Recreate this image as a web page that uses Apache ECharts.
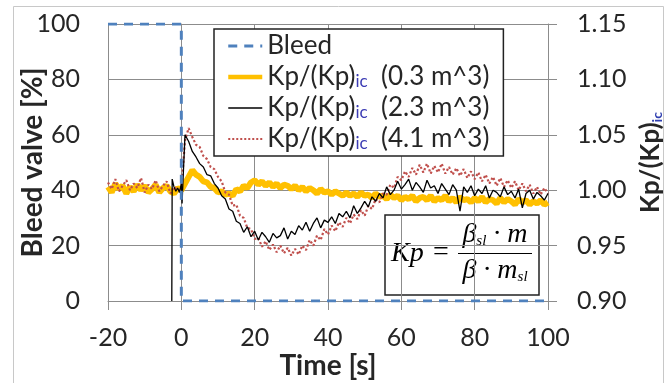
<!DOCTYPE html>
<html><head><meta charset="utf-8">
<script src="https://cdn.jsdelivr.net/npm/echarts@6/dist/echarts.min.js"></script>
<style>html,body{margin:0;padding:0;background:#fff}#c{width:667px;height:383px}</style>
</head><body><div id="c"></div>
<script>
// ---- data ----
const xTicks = [-20, 0, 20, 40, 60, 80, 100];
const leftTicks = [0, 20, 40, 60, 80, 100];
const rightTicks = [0.90, 0.95, 1.00, 1.05, 1.10, 1.15];

const bleedTime = [-20, 0, 0, 100];
const bleedValue = [100, 100, 0, 0];

const kpTime = Array.from({length: 121}, (_, i) => i - 20);
const kp03 = [
  1.003,0.998,1.006,1.001,1.004,0.997,1.003,0.999,1.005,1.000,1.004,0.998,1.001,1.005,0.998,1.002,1.004,0.999,0.997,1.002,
  1.000,1.006,1.012,1.018,1.014,1.012,1.008,1.007,1.003,1.002,0.998,
  0.999,0.996,0.997,0.995,1.001,0.999,1.004,1.002,1.007,1.009,
  1.005,1.008,1.004,1.007,1.003,1.006,1.002,1.005,1.004,1.001,
  1.004,1.000,1.003,0.999,1.002,1.000,0.997,1.001,0.998,0.999,
  0.996,0.999,0.997,0.995,0.998,0.995,0.997,0.994,0.998,0.995,
  0.996,0.993,0.997,0.994,0.995,0.992,0.996,0.993,0.995,0.991,
  0.994,0.992,0.995,0.990,0.993,0.994,0.991,0.995,0.990,0.993,
  0.991,0.995,0.990,0.993,0.989,0.994,0.991,0.992,0.989,0.993,
  0.990,0.994,0.989,0.992,0.991,0.988,0.993,0.989,0.992,0.990,
  0.987,0.992,0.989,0.991,0.987,0.990,0.988,0.991,0.987,0.989
];
const kp41 = [
  1.007,1.001,1.010,0.999,1.004,1.009,1.000,1.006,1.002,1.011,0.998,1.005,1.001,1.009,0.999,1.004,1.008,0.997,1.003,1.000,
  1.000,1.045,1.056,1.048,1.041,1.039,1.031,1.028,1.021,1.019,1.012,
  1.008,0.998,0.996,0.986,0.987,0.977,0.975,0.966,0.965,0.956,
  0.957,0.949,0.954,0.946,0.951,0.944,0.950,0.943,0.948,0.941,
  0.947,0.942,0.950,0.946,0.955,0.950,0.959,0.955,0.965,0.960,
  0.968,0.963,0.971,0.967,0.975,0.970,0.978,0.974,0.982,0.977,
  0.986,0.983,0.992,0.989,0.997,0.996,1.005,1.002,1.012,1.009,
  1.017,1.012,1.020,1.014,1.023,1.016,1.024,1.015,1.022,1.016,
  1.024,1.015,1.021,1.014,1.020,1.013,1.019,1.011,1.017,1.010,
  1.016,1.008,1.014,1.006,1.012,1.004,1.011,1.003,1.009,1.002,
  1.008,1.000,1.006,0.999,1.005,0.997,1.003,0.996,1.002,0.997
];
const kp23Time = [-2.6, -2.5, -2, -1.5, -1, -0.5, 0, 0.2, 0.5].concat(Array.from({length: 100}, (_, i) => i + 1));
const kp23 = [
  0.900,1.010,1.003,0.999,1.002,0.998,1.006,0.988,1.012,
  1.050,1.044,1.035,1.030,1.024,1.021,1.014,1.013,1.006,1.002,
  0.995,0.992,0.983,0.981,0.972,0.970,0.962,0.967,0.958,0.963,
  0.955,0.962,0.958,0.953,0.961,0.957,0.959,0.966,0.956,0.963,
  0.960,0.968,0.964,0.971,0.963,0.970,0.975,0.966,0.973,0.971,
  0.976,0.970,0.979,0.976,0.981,0.975,0.986,0.979,0.984,0.990,
  0.985,0.994,0.990,0.997,0.993,1.003,0.996,1.000,1.008,1.001,
  1.005,1.010,1.000,1.007,1.003,0.998,1.009,1.002,1.004,0.997,
  1.006,1.001,0.996,1.005,1.000,0.981,1.003,0.998,1.004,0.995,
  1.001,0.997,1.004,0.993,1.000,0.998,0.994,1.003,0.996,0.999,
  0.993,1.001,0.984,0.997,1.000,0.992,0.998,0.995,0.991,0.997
];

const names = ['Bleed', 'Kp/(Kp)ic  (0.3 m^3)', 'Kp/(Kp)ic  (2.3 m^3)', 'Kp/(Kp)ic  (4.1 m^3)'];

// ---- chart ----
const pairs = (t, v) => t.map((x, i) => [x, v[i]]);
const FONT = 'Lato';
const TXT = '#262626';
const GRID = '#8c8c8c';

const chart = echarts.init(document.getElementById('c'));
chart.setOption({
  animation: false,
  backgroundColor: '#fff',
  grid: {left: 108, right: 119, top: 24, bottom: 82, containLabel: false, outerBoundsMode: 'none'},
  xAxis: {
    type: 'value', min: xTicks[0], max: xTicks[xTicks.length - 1], interval: 20,
    axisLine: {show: true, onZero: false, lineStyle: {color: GRID}},
    axisTick: {show: true, length: 9, lineStyle: {color: GRID}},
    axisLabel: {fontSize: 25, fontFamily: FONT, color: TXT, margin: 24},
    splitLine: {show: true, lineStyle: {color: GRID}},
    name: 'Time [s]', nameLocation: 'middle', nameGap: 51, nameMoveOverlap: false,
    nameTextStyle: {fontSize: 28, fontWeight: 'bold', fontFamily: FONT, color: TXT}
  },
  yAxis: [{
    type: 'value', min: leftTicks[0], max: leftTicks[leftTicks.length - 1], interval: 20, position: 'left',
    axisLine: {show: true, lineStyle: {color: GRID}},
    axisTick: {show: false},
    axisLabel: {fontSize: 25, fontFamily: FONT, color: TXT, margin: 28},
    splitLine: {show: true, lineStyle: {color: GRID}},
    name: 'Bleed valve [%]', nameLocation: 'middle', nameRotate: 90, nameGap: 61, nameMoveOverlap: false,
    nameTextStyle: {fontSize: 28, fontWeight: 'bold', fontFamily: FONT, color: TXT}
  }, {
    type: 'value', min: rightTicks[0], max: rightTicks[rightTicks.length - 1], interval: 0.05, position: 'right',
    axisLine: {show: true, lineStyle: {color: GRID}},
    axisTick: {show: true, length: 9, lineStyle: {color: GRID}},
    axisLabel: {fontSize: 25, fontFamily: FONT, color: TXT, margin: 29, formatter: v => v.toFixed(2)},
    splitLine: {show: false},
    name: 'Kp/(Kp){sub|ic}', nameLocation: 'middle', nameRotate: 90, nameGap: 90, nameMoveOverlap: false,
    nameTextStyle: {fontSize: 26, fontWeight: 'bold', fontFamily: FONT, color: TXT,
      rich: {sub: {fontSize: 14, fontWeight: 'bold', fontFamily: FONT, color: '#2f3fb0', verticalAlign: 'bottom'}}}
  }],
  legend: {
    data: [
      {name: names[0], lineStyle: {width: 3}},
      {name: names[1], lineStyle: {width: 4.5}},
      {name: names[2], lineStyle: {width: 1.5}},
      {name: names[3], lineStyle: {width: 2}}
    ],
    orient: 'vertical', left: 214, top: 29,
    itemWidth: 34, itemHeight: 14, itemGap: 5,
    padding: [4, 14, 4, 12],
    borderColor: '#222', borderWidth: 1.5, backgroundColor: '#fff',
    itemStyle: {opacity: 0},
    formatter: n => n.replace('ic', '{sub|ic}'),
    textStyle: {fontFamily: FONT, fontSize: 26, color: TXT,
      rich: {sub: {fontFamily: FONT, fontSize: 17, color: '#3c3cb4', verticalAlign: 'bottom', padding: [6, 0, 0, 0]}}}
  },
  series: [
    {name: names[1], type: 'line', yAxisIndex: 1, data: pairs(kpTime, kp03), symbol: 'none', z: 2,
      lineStyle: {color: '#ffc000', width: 6}, itemStyle: {color: '#ffc000'}},
    {name: names[3], type: 'line', yAxisIndex: 1, data: pairs(kpTime, kp41), symbol: 'none', z: 3,
      lineStyle: {color: '#c0504d', width: 2.2, type: 'dotted'}, itemStyle: {color: '#c0504d'}},
    {name: names[2], type: 'line', yAxisIndex: 1, data: pairs(kp23Time, kp23), symbol: 'none', z: 4,
      lineStyle: {color: '#000', width: 1.3}, itemStyle: {color: '#000'}},
    {name: names[0], type: 'line', yAxisIndex: 0, data: pairs(bleedTime, bleedValue), symbol: 'none', z: 5,
      lineStyle: {color: '#4f81bd', width: 3, type: [9, 7]}, itemStyle: {color: '#4f81bd'}}
  ],
  graphic: [
    {type: 'rect', silent: true, z: -10, shape: {x: 13.5, y: 6.5, width: 650, height: 420},
      style: {fill: 'none', stroke: '#c8c8c8', lineWidth: 1}},
    {type: 'group', silent: true, z: 100, children: [
      {type: 'rect', shape: {x: 385, y: 215, width: 154, height: 80}, style: {fill: '#fff', stroke: '#222', lineWidth: 1.5}},
      {type: 'text', x: 391, y: 254, style: {text: 'Kp', fontFamily: 'Liberation Serif', fontStyle: 'italic', fontSize: 28, fill: '#000', align: 'left', verticalAlign: 'middle'}},
      {type: 'text', x: 441, y: 253, style: {text: '=', fontFamily: 'Liberation Serif', fontSize: 28, fill: '#000', align: 'center', verticalAlign: 'middle'}},
      {type: 'line', shape: {x1: 458, y1: 253.5, x2: 532, y2: 253.5}, style: {stroke: '#000', lineWidth: 1.2}},
      {type: 'text', x: 495, y: 235, style: {text: 'β{s|sl} · m', fontFamily: 'Liberation Serif', fontStyle: 'italic', fontSize: 28, fill: '#000', align: 'center', verticalAlign: 'middle',
        rich: {s: {fontFamily: 'Liberation Serif', fontStyle: 'italic', fontSize: 15, fill: '#000', verticalAlign: 'bottom'}}}},
      {type: 'text', x: 495, y: 271, style: {text: 'β · m{s|sl}', fontFamily: 'Liberation Serif', fontStyle: 'italic', fontSize: 28, fill: '#000', align: 'center', verticalAlign: 'middle',
        rich: {s: {fontFamily: 'Liberation Serif', fontStyle: 'italic', fontSize: 15, fill: '#000', verticalAlign: 'bottom'}}}}
    ]}
  ]
});
</script></body></html>
